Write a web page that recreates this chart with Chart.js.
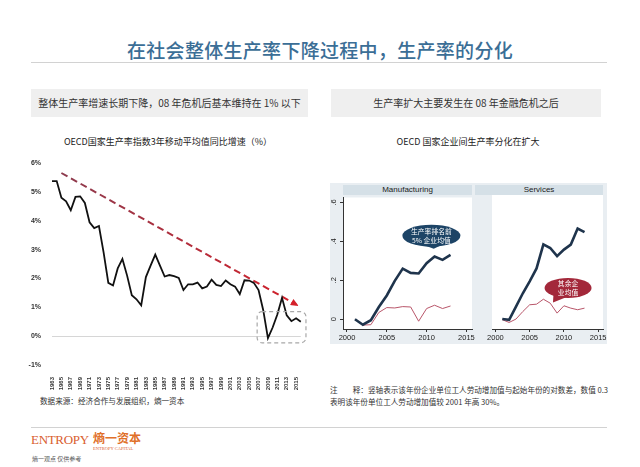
<!DOCTYPE html>
<html>
<head>
<meta charset="utf-8">
<script src="https://cdn.jsdelivr.net/npm/chart.js@4.4.1/dist/chart.umd.min.js"></script>
<style>
  body { margin: 0; width: 640px; height: 467px; background: #fff; position: relative; overflow: hidden;
         font-family: "Noto Sans CJK SC", "Liberation Sans", sans-serif; }
  .abs { position: absolute; }
  #title { left: 0; width: 640px; top: 36px; line-height: 28px; text-align: center; font-size: 19px;
           color: #3b6e96; font-weight: 500; letter-spacing: 0.3px; }
  .rule { left: 31px; width: 576px; height: 1px; background: #d2d2d2; }
  .box { top: 89px; height: 28px; line-height: 28px; background: #efefef; font-size: 10px; color: #333; text-align: center; }
  .ctitle { top: 135px; font-size: 9px; color: #222; text-align: center; line-height: 14px; }
  .panelbg { left: 330px; top: 183px; width: 277px; height: 161px; background: #e9eef2; }
  .strip { top: 185px; height: 10px; line-height: 10px; background: #d5e0e7; font: 8px "Liberation Sans", sans-serif;
           color: #222; text-align: center; }
  .note { font-size: 7.6px; color: #333; line-height: 12px; }
  canvas { position: absolute; }
</style>
</head>
<body>
<div id="title" class="abs">在社会整体生产率下降过程中，生产率的分化</div>
<div class="abs rule" style="top:62px"></div>
<div class="abs box" style="left:31px;width:277px">整体生产率增速长期下降，08 年危机后基本维持在 1% 以下</div>
<div class="abs box" style="left:331px;width:270px">生产率扩大主要发生在 08 年金融危机之后</div>
<div class="abs ctitle" style="left:40px;width:256px">OECD国家生产率指数3年移动平均值同比增速（%）</div>
<div class="abs ctitle" style="left:340px;width:256px">OECD 国家企业间生产率分化在扩大</div>

<canvas id="left" width="294" height="247" style="left:18px;top:148px"></canvas>

<div class="abs panelbg"></div>
<div class="abs strip" style="left:343px;width:129px">Manufacturing</div>
<div class="abs strip" style="left:475px;width:128px">Services</div>
<canvas id="mfg" width="150" height="156" style="left:326px;top:190px"></canvas>
<canvas id="svc" width="140" height="156" style="left:470px;top:190px"></canvas>

<div class="abs note" style="left:40px;top:395px">数据来源：经济合作与发展组织，熵一资本</div>
<div class="abs note" style="left:330px;top:384px;width:280px">注　　释：竖轴表示该年份企业单位工人劳动增加值与起始年份的对数差，数值 0.3<br>表明该年份单位工人劳动增加值较 2001 年高 30%。</div>

<div class="abs rule" style="top:427px"></div>
<div class="abs" style="left:31px;top:432px;font:13px 'Liberation Serif',serif;color:#d9602f;letter-spacing:-0.3px">ENTROPY</div>
<div class="abs" style="left:93px;top:430px;font-size:12px;font-weight:bold;color:#e0702a;line-height:16px">熵一资本</div>
<div class="abs" style="left:93px;top:446px;font:4.5px 'Liberation Serif',serif;color:#d9602f">ENTROPY CAPITAL</div>
<div class="abs" style="left:32px;top:454px;font-size:6px;color:#555">熵一观点 仅供参考</div>

<script>
// ---- left chart data: OECD productivity index, 3y MA yoy growth (%)
const years = [1963, 1964, 1965, 1966, 1967, 1968, 1969, 1970, 1971, 1972,
               1973, 1974, 1975, 1976, 1977, 1978, 1979, 1980, 1981, 1982,
               1983, 1984, 1985, 1986, 1987, 1988, 1989, 1990, 1991, 1992,
               1993, 1994, 1995, 1996, 1997, 1998, 1999, 2000, 2001, 2002,
               2003, 2004, 2005, 2006, 2007, 2008, 2009, 2010, 2011, 2012,
               2013, 2014, 2015, 2016];
const growth = [5.38, 5.38, 4.8, 4.68, 4.37, 4.83, 4.85, 4.62, 3.95, 3.75,
                3.82, 2.9, 1.85, 1.76, 2.35, 2.68, 2.1, 1.42, 1.28, 1.07,
                2.05, 2.45, 2.83, 2.45, 2.07, 2.12, 2.08, 2.02, 1.6, 1.8,
                1.8, 1.86, 1.66, 1.72, 1.96, 1.78, 1.74, 1.93, 1.8, 1.72,
                1.46, 1.94, 1.93, 1.85, 1.6, 0.9, -0.07, 0.3, 0.75, 1.33,
                0.72, 0.52, 0.62, 0.5];
const trendYears = ['1965', '2015'];
const trendValues = [5.66, 1.1];
// post-crisis highlight box (years / %)
const boxYears = [2006.7, 2017.1];
const boxValues = [-0.23, 0.85];

// ---- right chart data: log diff vs 2001
const panelYears = [2001, 2002, 2003, 2004, 2005, 2006, 2007, 2008, 2009, 2010, 2011, 2012, 2013];
const mfgTop  = [0, -0.028, -0.005, 0.063, 0.122, 0.197, 0.26, 0.238, 0.235, 0.288, 0.322, 0.305, 0.33];
const mfgRest = [0, -0.03, -0.028, 0.035, 0.06, 0.058, 0.065, 0.063, -0.01, 0.055, 0.072, 0.055, 0.068];
const svcTop  = [0, -0.004, 0.063, 0.13, 0.19, 0.255, 0.376, 0.358, 0.317, 0.35, 0.375, 0.456, 0.438];
const svcRest = [-0.003, -0.017, 0, 0.038, 0.072, 0.075, 0.1, 0.08, 0.03, 0.067, 0.055, 0.047, 0.055];

const tinyFont = { family: 'Liberation Sans', size: 7, weight: 'bold' };

// arrow head at end of the trend line + dashed box
const leftDeco = {
  id: 'leftDeco',
  afterDatasetsDraw(chart) {
    const ctx = chart.ctx;
    const meta = chart.getDatasetMeta(1);
    const p0 = meta.data[0], p1 = meta.data[1];
    const a = Math.atan2(p1.y - p0.y, p1.x - p0.x);
    ctx.save();
    ctx.fillStyle = '#d4202a';
    ctx.translate(p1.x, p1.y);
    ctx.rotate(a);
    ctx.beginPath();
    ctx.moveTo(3, 0);
    ctx.lineTo(-5, -3.5);
    ctx.lineTo(-5, 3.5);
    ctx.closePath();
    ctx.fill();
    ctx.restore();

    const { x, y } = chart.scales;
    const x0 = x.getPixelForValue(boxYears[0] - years[0]);
    const x1 = x.getPixelForValue(boxYears[1] - years[0]);
    const y0 = y.getPixelForValue(boxValues[1]);
    const y1 = y.getPixelForValue(boxValues[0]);
    const r = 5;
    ctx.save();
    ctx.strokeStyle = '#a8a8a8';
    ctx.lineWidth = 1.2;
    ctx.setLineDash([4, 3]);
    ctx.beginPath();
    ctx.moveTo(x0 + r, y0);
    ctx.arcTo(x1, y0, x1, y1, r);
    ctx.arcTo(x1, y1, x0, y1, r);
    ctx.arcTo(x0, y1, x0, y0, r);
    ctx.arcTo(x0, y0, x1, y0, r);
    ctx.closePath();
    ctx.stroke();
    ctx.restore();
  }
};

new Chart(document.getElementById('left'), {
  type: 'line',
  data: {
    labels: years.map(String),
    datasets: [
      { data: growth, borderColor: '#111', borderWidth: 1.8 },
      {
        data: trendYears.map((t, i) => ({ x: t, y: trendValues[i] })),
        borderWidth: 2,
        borderDash: [7, 4],
        borderColor: (c) => {
          const a = c.chart.chartArea;
          if (!a) return '#a02a3a';
          const g = c.chart.ctx.createLinearGradient(a.left, 0, a.right, 0);
          g.addColorStop(0, '#8a3d50');
          g.addColorStop(1, '#d4202a');
          return g;
        }
      }
    ]
  },
  options: {
    responsive: false,
    animation: false,
    events: [],
    elements: { point: { radius: 0 }, line: { tension: 0 } },
    layout: { padding: { top: 7, right: 11, left: 0, bottom: 0 } },
    plugins: { legend: { display: false }, tooltip: { enabled: false } },
    scales: {
      x: {
        grid: { display: false },
        border: { display: false },
        ticks: {
          autoSkip: false, minRotation: 90, maxRotation: 90, padding: 4,
          font: { family: 'Liberation Sans', size: 6, weight: 'bold' }, color: '#333',
          callback: (v, i) => (years[i] % 2 === 1 ? String(years[i]) : '')
        },
        afterFit: (s) => { s.height = 30; }
      },
      y: {
        min: -1, max: 6,
        border: { display: false },
        grid: {
          drawTicks: false,
          color: (c) => (c.tick && c.tick.value === 0 ? '#d6d6d6' : 'rgba(0,0,0,0)')
        },
        ticks: { stepSize: 1, padding: 11, font: tinyFont, color: '#333', callback: (v) => v + '%' },
        afterFit: (s) => { s.width = 34; }
      }
    }
  },
  plugins: [leftDeco]
});

// ---- right panels
const whitePlot = {
  id: 'whitePlot',
  beforeDraw(chart) {
    const a = chart.chartArea;
    chart.ctx.save();
    chart.ctx.fillStyle = '#fff';
    chart.ctx.fillRect(a.left, a.top, a.right - a.left, a.bottom - a.top);
    chart.ctx.restore();
  }
};

const callout = {
  id: 'callout',
  afterDatasetsDraw(chart, args, o) {
    const { x, y } = chart.scales;
    const ctx = chart.ctx;
    const cx = x.getPixelForValue(o.year), cy = y.getPixelForValue(o.value);
    const tx = x.getPixelForValue(o.tipYear), ty = y.getPixelForValue(o.tipValue);
    const rx = o.w / 2, ry = o.h / 2;
    const a = Math.atan2((ty - cy) / ry, (tx - cx) / rx);
    ctx.save();
    ctx.fillStyle = o.color;
    ctx.beginPath();
    ctx.ellipse(cx, cy, rx, ry, 0, 0, Math.PI * 2);
    ctx.fill();
    ctx.beginPath();
    ctx.moveTo(tx, ty);
    ctx.lineTo(cx + rx * 0.9 * Math.cos(a - 0.35), cy + ry * 0.9 * Math.sin(a - 0.35));
    ctx.lineTo(cx + rx * 0.9 * Math.cos(a + 0.35), cy + ry * 0.9 * Math.sin(a + 0.35));
    ctx.closePath();
    ctx.fill();
    ctx.fillStyle = '#fff';
    ctx.font = '6.8px "Noto Sans CJK SC"';
    ctx.textAlign = 'center';
    ctx.textBaseline = 'middle';
    const n = o.lines.length;
    o.lines.forEach((t, i) => ctx.fillText(t, cx, cy + (i - (n - 1) / 2) * 8.5));
    ctx.restore();
  }
};

function makePanel(id, top, rest, showY, bubble, padLeft, padRight) {
  return new Chart(document.getElementById(id), {
    type: 'line',
    data: {
      datasets: [
        { data: panelYears.map((yr, i) => ({ x: yr, y: top[i] })), borderColor: '#1f344c', borderWidth: 2.6 },
        { data: panelYears.map((yr, i) => ({ x: yr, y: rest[i] })), borderColor: '#b9566a', borderWidth: 1 }
      ]
    },
    options: {
      responsive: false,
      animation: false,
      events: [],
      elements: { point: { radius: 0 }, line: { tension: 0 } },
      layout: { padding: { top: 5, left: padLeft, right: padRight, bottom: 0 } },
      plugins: { legend: { display: false }, tooltip: { enabled: false }, callout: bubble },
      scales: {
        x: {
          type: 'linear', min: 1999.5, max: 2015.7,
          grid: { drawOnChartArea: false, tickLength: 3, color: '#333' },
          border: { color: '#333' },
          ticks: {
            stepSize: 5, includeBounds: false, maxRotation: 0, padding: 1,
            font: { family: 'Liberation Sans', size: 7.5 }, color: '#222',
            callback: (v) => String(v)
          },
          afterFit: (s) => { s.height = 17; }
        },
        y: {
          display: showY,
          min: -0.05, max: 0.625,
          grid: { drawOnChartArea: false, tickLength: 3, color: '#333' },
          border: { color: '#333' },
          ticks: {
            stepSize: 0.2, includeBounds: false, minRotation: 90, maxRotation: 90,
            crossAlign: 'center', padding: 3,
            font: { family: 'Liberation Sans', size: 7.5 }, color: '#222',
            callback: (v) => (Math.abs(v) < 1e-9 ? '0' : v.toFixed(1).replace(/^0/, ''))
          },
          afterFit: (s) => { s.width = 17; }
        }
      }
    },
    plugins: [whitePlot, callout]
  });
}

makePanel('mfg', mfgTop, mfgRest, true,
  { year: 2010.6, value: 0.429, tipYear: 2010.9, tipValue: 0.362, w: 58, h: 22, color: '#1d4466',
    lines: ['生产率排名前', '5% 企业均值'] }, 0, 4);
makePanel('svc', svcTop, svcRest, false,
  { year: 2010.6, value: 0.157, tipYear: 2008.4, tipValue: 0.083, w: 47, h: 20, color: '#a3283a',
    lines: ['其余企', '业均值'] }, 5, 7);
</script>
</body>
</html>
